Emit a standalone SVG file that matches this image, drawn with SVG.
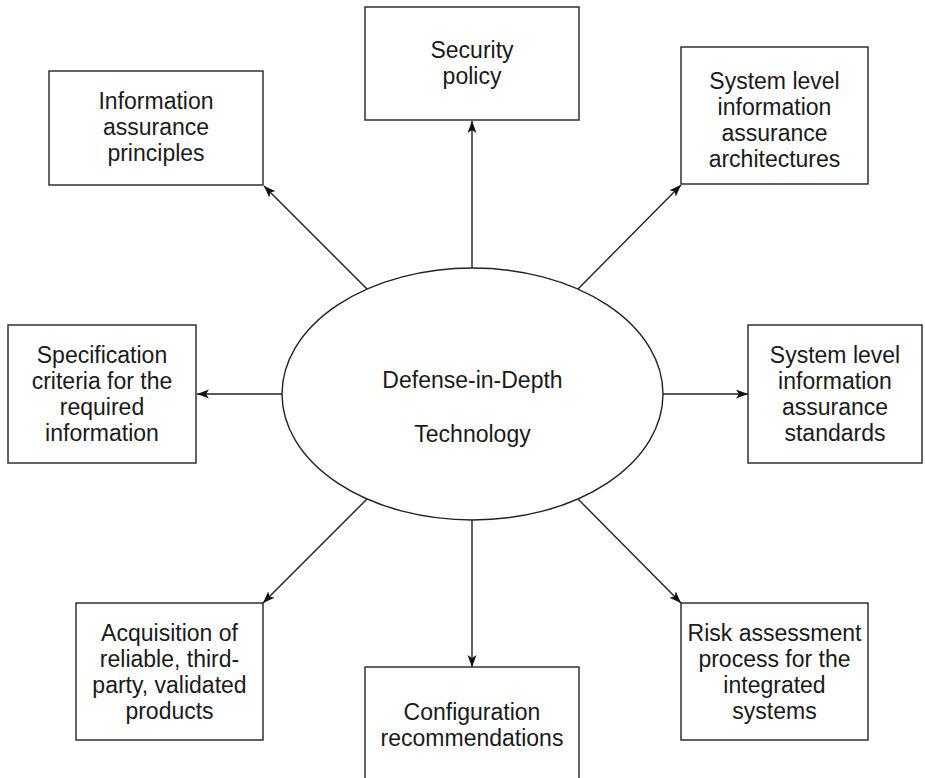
<svg xmlns="http://www.w3.org/2000/svg" width="925" height="778" viewBox="0 0 925 778">
  <style>
    .box { fill: #ffffff; stroke: #222222; stroke-width: 1.4; }
    .hub { fill: #ffffff; stroke: #222222; stroke-width: 1.4; }
    .lbl { font-family: "Liberation Sans", Arial, sans-serif; font-size: 23px; fill: #1a1a1a; text-anchor: middle; }
    .link { stroke: #222222; stroke-width: 1.4; fill: none; marker-end: url(#arrow); }
  </style>
  <defs>
    <marker id="arrow" markerUnits="userSpaceOnUse" markerWidth="13" markerHeight="10" refX="12" refY="4.5" orient="auto">
      <path d="M0,0 L12,4.5 L0,9 L3,4.5 z" fill="#111111"/>
    </marker>
  </defs>

  <rect width="925" height="778" fill="#ffffff"/>

  <!-- connectors from the central ellipse out to each box -->
  <g id="connectors">
    <line class="link" x1="472" y1="268" x2="472" y2="121"/>
    <line class="link" x1="367" y1="289" x2="264" y2="186"/>
    <line class="link" x1="578" y1="289" x2="681" y2="185"/>
    <line class="link" x1="282" y1="394" x2="197" y2="394"/>
    <line class="link" x1="663" y1="394" x2="748" y2="394"/>
    <line class="link" x1="367" y1="499" x2="263" y2="603"/>
    <line class="link" x1="472" y1="520" x2="472" y2="667"/>
    <line class="link" x1="578" y1="499" x2="681" y2="603"/>
  </g>

  <g id="hub">
    <ellipse class="hub" cx="472.5" cy="394" rx="190.5" ry="126"/>
    <text class="lbl" x="472.5" y="388">Defense-in-Depth</text>
    <text class="lbl" x="472.5" y="442">Technology</text>
  </g>

  <g id="principles">
    <rect class="box" x="49" y="71" width="214" height="114"/>
    <text class="lbl" x="156" y="109">Information</text>
    <text class="lbl" x="156" y="135">assurance</text>
    <text class="lbl" x="156" y="161">principles</text>
  </g>

  <g id="security-policy">
    <rect class="box" x="365" y="7" width="214" height="113"/>
    <text class="lbl" x="472" y="58">Security</text>
    <text class="lbl" x="472" y="84">policy</text>
  </g>

  <g id="architectures">
    <rect class="box" x="681" y="47" width="187" height="137"/>
    <text class="lbl" x="774.5" y="89">System level</text>
    <text class="lbl" x="774.5" y="115">information</text>
    <text class="lbl" x="774.5" y="141">assurance</text>
    <text class="lbl" x="774.5" y="167">architectures</text>
  </g>

  <g id="specification">
    <rect class="box" x="8" y="325" width="188" height="138"/>
    <text class="lbl" x="102" y="363">Specification</text>
    <text class="lbl" x="102" y="389">criteria for the</text>
    <text class="lbl" x="102" y="415">required</text>
    <text class="lbl" x="102" y="441">information</text>
  </g>

  <g id="standards">
    <rect class="box" x="748" y="325" width="174" height="138"/>
    <text class="lbl" x="835" y="363">System level</text>
    <text class="lbl" x="835" y="389">information</text>
    <text class="lbl" x="835" y="415">assurance</text>
    <text class="lbl" x="835" y="441">standards</text>
  </g>

  <g id="acquisition">
    <rect class="box" x="76" y="603" width="187" height="137"/>
    <text class="lbl" x="169.5" y="641">Acquisition of</text>
    <text class="lbl" x="169.5" y="667">reliable, third-</text>
    <text class="lbl" x="169.5" y="693">party, validated</text>
    <text class="lbl" x="169.5" y="719">products</text>
  </g>

  <g id="configuration">
    <rect class="box" x="365" y="667" width="214" height="130"/>
    <text class="lbl" x="472" y="720">Configuration</text>
    <text class="lbl" x="472" y="746">recommendations</text>
  </g>

  <g id="risk-assessment">
    <rect class="box" x="681" y="603" width="187" height="137"/>
    <text class="lbl" x="774.5" y="641">Risk assessment</text>
    <text class="lbl" x="774.5" y="667">process for the</text>
    <text class="lbl" x="774.5" y="693">integrated</text>
    <text class="lbl" x="774.5" y="719">systems</text>
  </g>
</svg>
